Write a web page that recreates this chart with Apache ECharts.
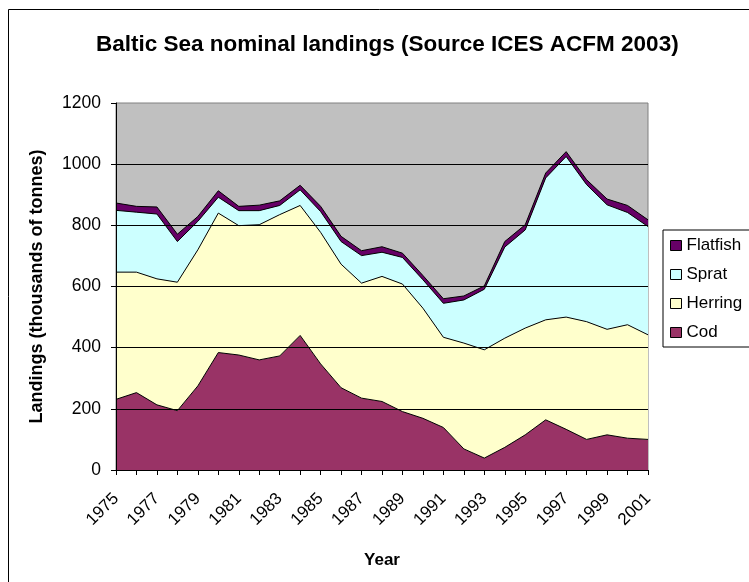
<!DOCTYPE html>
<html>
<head>
<meta charset="utf-8">
<script src="https://cdn.jsdelivr.net/npm/echarts@6/dist/echarts.min.js"></script>
<style>
html,body{margin:0;padding:0;background:#fff;}
#chart{width:749px;height:582px;}
</style>
</head>
<body>
<div id="chart"></div>
<script>
var years = ['1975','1976','1977','1978','1979','1980','1981','1982','1983','1984','1985','1986','1987','1988','1989','1990','1991','1992','1993','1994','1995','1996','1997','1998','1999','2000','2001'];
var cod = [231,253,213,194,275,384,376,360,373,440,347,269,235,224,191,169,139,69,39,74,115,164,133,100,115,104,100];
var herring = [416,394,412,420,445,456,423,442,462,425,430,404,376,409,417,360,295,346,354,357,349,327,367,385,345,371,342];
var sprat = [202,196,212,133,93,52,49,46,30,51,68,74,90,79,87,93,111,141,198,298,321,464,525,448,407,367,354];
var flatfish = [24,19,23,24,16,21,14,18,15,15,17,17,16,18,14,14,15,13,11,18,17,16,16,16,19,23,22];
var yTicks = [0,200,400,600,800,1000,1200];

var FONT = 'Liberation Sans, Arial, sans-serif';
var chart = echarts.init(document.getElementById('chart'), null, {renderer:'canvas'});

function areaSeries(name, data, color){
  return {
    name: name, type: 'line', stack: 'total', data: data,
    symbol: 'none', showSymbol: false,
    lineStyle: {color: '#000', width: 1},
    areaStyle: {color: color, opacity: 1},
    itemStyle: {color: color, borderColor: '#000', borderWidth: 1},
    emphasis: {disabled: true},
    z: 2
  };
}

chart.setOption({
  animation: false,
  backgroundColor: '#fff',
  title: {
    text: 'Baltic Sea nominal landings (Source ICES ACFM 2003)',
    left: 91, top: 28,
    textStyle: {fontFamily: FONT, fontSize: 22.5, fontWeight: 'bold', color: '#000'}
  },
  graphic: [{
    type: 'rect', silent: true,
    shape: {x: 8.5, y: 9.5, width: 800, height: 600},
    style: {fill: 'none', stroke: '#000', lineWidth: 1}
  }],
  legend: {
    orient: 'vertical', left: 663, top: 230,
    data: ['Flatfish','Sprat','Herring','Cod'],
    icon: 'rect', itemWidth: 11, itemHeight: 10, itemGap: 12,
    padding: [7, 40, 6, 7],
    borderColor: '#000', borderWidth: 1, backgroundColor: '#fff',
    itemStyle: {borderColor: '#000', borderWidth: 1},
    textStyle: {fontFamily: FONT, fontSize: 17, color: '#000', lineHeight: 17}
  },
  grid: {
    left: 116, right: 101, top: 103, bottom: 112,
    show: true, backgroundColor: '#c0c0c0', borderColor: '#808080', borderWidth: 1
  },
  xAxis: {
    type: 'category', data: years, boundaryGap: false,
    name: 'Year', nameLocation: 'middle', nameGap: 82,
    nameTextStyle: {fontFamily: FONT, fontSize: 17, fontWeight: 'bold', color: '#000'},
    axisLine: {show: true, lineStyle: {color: '#000', width: 1}},
    axisTick: {show: true, interval: 0, length: 5, inside: false, lineStyle: {color: '#000'}},
    axisLabel: {interval: 1, rotate: 45, fontFamily: FONT, fontSize: 17, color: '#000', margin: 26},
    splitLine: {show: false},
    z: 10
  },
  yAxis: {
    type: 'value', min: yTicks[0], max: yTicks[yTicks.length-1], interval: 200,
    name: 'Landings (thousands of tonnes)', nameLocation: 'middle', nameGap: 70,
    nameTextStyle: {fontFamily: FONT, fontSize: 18, fontWeight: 'bold', color: '#000'},
    axisLine: {show: true, lineStyle: {color: '#000', width: 1}},
    axisTick: {show: true, length: 5, inside: false, lineStyle: {color: '#000'}},
    axisLabel: {fontFamily: FONT, fontSize: 17.5, color: '#000', margin: 15,
      formatter: function(v){ return String(v); }},
    splitLine: {show: true, showMaxLine: false, showMinLine: false, lineStyle: {color: '#000', width: 1}},
    z: 10
  },
  series: [
    areaSeries('Cod', cod, '#993366'),
    areaSeries('Herring', herring, '#ffffcc'),
    areaSeries('Sprat', sprat, '#ccffff'),
    areaSeries('Flatfish', flatfish, '#660066')
  ]
});
</script>
</body>
</html>
